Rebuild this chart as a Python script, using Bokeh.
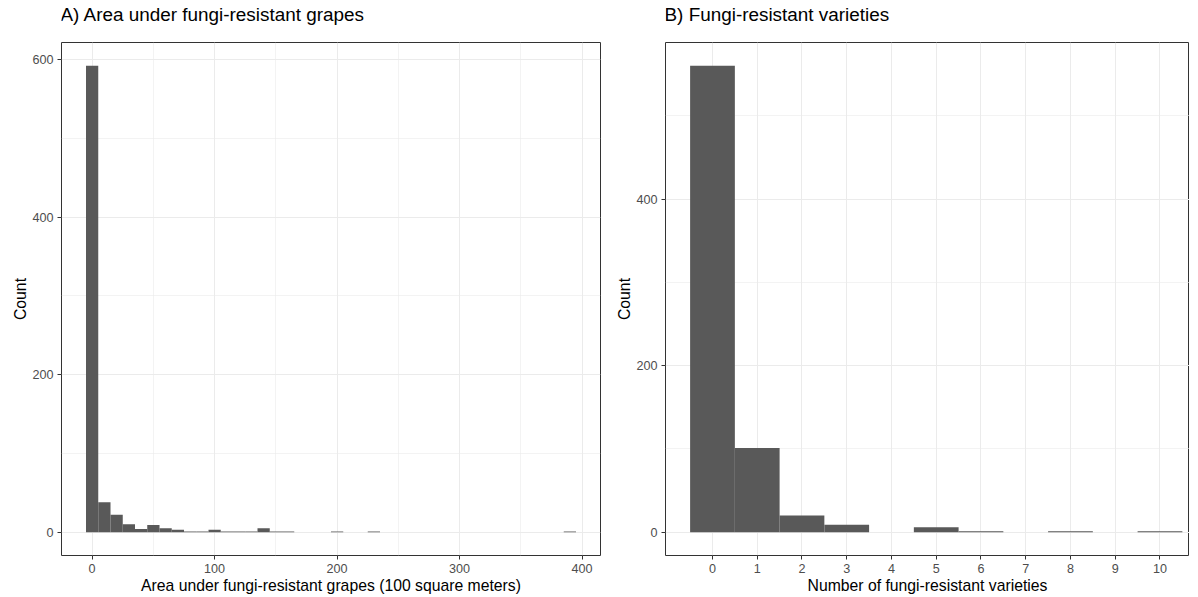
from bokeh.plotting import figure
from bokeh.layouts import row, column
from bokeh.models import FixedTicker, Range1d
from bokeh.core.properties import value
from bokeh.embed import file_html
from bokeh.resources import INLINE

# ---- Data ----
# Panel A: histogram of area (bin width 10, bins centred on multiples of 10)
area_bin_centers = [0, 10, 20, 30, 40, 50, 60, 70, 80, 90, 100, 110, 120, 130,
                    140, 150, 160, 200, 230, 390]
area_counts = [592, 38, 22, 10, 4, 9, 5, 3, 1, 1, 3, 1, 1, 1,
               5, 1, 1, 1, 1, 1]
area_binwidth = 10

# Panel B: number of fungi-resistant varieties
variety_values = [0, 1, 2, 3, 4, 5, 6, 7, 8, 9, 10]
variety_counts = [560, 101, 20, 9, 0, 6, 1, 0, 1, 0, 1]
variety_binwidth = 1

area_ticks = [0, 100, 200, 300, 400]
area_minor = [50, 150, 250, 350]
countA_ticks = [0, 200, 400, 600]
countA_minor = [100, 300, 500]
variety_ticks = [0, 1, 2, 3, 4, 5, 6, 7, 8, 9, 10]
countB_ticks = [0, 200, 400]
countB_minor = [100, 300, 500]

titles = ["A) Area under fungi-resistant grapes", "B) Fungi-resistant varieties"]

FONT = "Liberation Sans"
BAR = "#595959"
GRID = "#EBEBEB"


def title_strip(text, frame_width, left, right):
    t = figure(frame_width=frame_width, frame_height=28,
               x_range=Range1d(0, 1), y_range=Range1d(0, 1),
               x_axis_location=None, y_axis_location=None,
               toolbar_location=None, output_backend="svg",
               min_border_left=left, min_border_right=right,
               min_border_top=0, min_border_bottom=0)
    t.outline_line_color = None
    t.xgrid.visible = False
    t.ygrid.visible = False
    t.background_fill_color = "white"
    t.border_fill_color = "white"
    t.text(x=[0], y=[0.5], text=[text], x_offset=-1,
           text_font=value(FONT), text_font_size="18.9px",
           text_color="black", text_baseline="middle", text_align="left")
    return t


def style(p, xlabel, ylabel):
    p.background_fill_color = "white"
    p.border_fill_color = "white"
    p.outline_line_color = "#333333"
    p.outline_line_width = 1
    for ax in (p.xaxis[0], p.yaxis[0]):
        ax.axis_line_color = None
        ax.major_tick_line_color = "#333333"
        ax.major_tick_out = 4
        ax.major_tick_in = 0
        ax.minor_tick_line_color = None
        ax.major_label_text_font = FONT
        ax.major_label_text_font_size = "12.6px"
        ax.major_label_text_color = "#4D4D4D"
        ax.axis_label_text_font = FONT
        ax.axis_label_text_font_size = "15.75px"
        ax.axis_label_text_font_style = "normal"
        ax.axis_label_text_color = "black"
    p.xaxis.major_label_standoff = 4
    p.xaxis.axis_label_standoff = 1
    p.yaxis.major_label_standoff = 4
    p.yaxis.axis_label_standoff = 0
    p.xaxis.axis_label = xlabel
    p.yaxis.axis_label = ylabel
    for g in (p.xgrid[0], p.ygrid[0]):
        g.grid_line_color = GRID
        g.grid_line_width = 1
        g.minor_grid_line_color = GRID
        g.minor_grid_line_width = 0.6


# ---- Panel A ----
pA = figure(frame_width=539, frame_height=513,
            x_range=Range1d(-25, 415), y_range=Range1d(-29.6, 621.6),
            toolbar_location=None, output_backend="svg",
            min_border_left=61, min_border_right=9,
            min_border_top=14, min_border_bottom=38)
pA.quad(left=[c - area_binwidth / 2 for c in area_bin_centers],
        right=[c + area_binwidth / 2 for c in area_bin_centers],
        bottom=0, top=area_counts, fill_color=BAR, line_color=None)
style(pA, "Area under fungi-resistant grapes (100 square meters)", "Count")
pA.xaxis.ticker = FixedTicker(ticks=area_ticks, minor_ticks=area_minor)
pA.yaxis.ticker = FixedTicker(ticks=countA_ticks, minor_ticks=countA_minor)
tA = title_strip(titles[0], 539, 61, 9)

# ---- Panel B ----
pB = figure(frame_width=524, frame_height=513,
            x_range=Range1d(-1.05, 10.66), y_range=Range1d(-28, 588),
            toolbar_location=None, output_backend="svg",
            min_border_left=56, min_border_right=0,
            min_border_top=14, min_border_bottom=38)
pB.quad(left=[v - variety_binwidth / 2 for v in variety_values],
        right=[v + variety_binwidth / 2 for v in variety_values],
        bottom=0, top=variety_counts, fill_color=BAR, line_color=None)
style(pB, "Number of fungi-resistant varieties", "Count")
pB.xaxis.ticker = FixedTicker(ticks=variety_ticks, minor_ticks=[])
pB.yaxis.ticker = FixedTicker(ticks=countB_ticks, minor_ticks=countB_minor)
tB = title_strip(titles[1], 524, 56, 0)

layout = row(column(tA, pA, spacing=0), column(tB, pB, spacing=0), spacing=0)
open("out.html", "w").write(file_html(layout, INLINE))
